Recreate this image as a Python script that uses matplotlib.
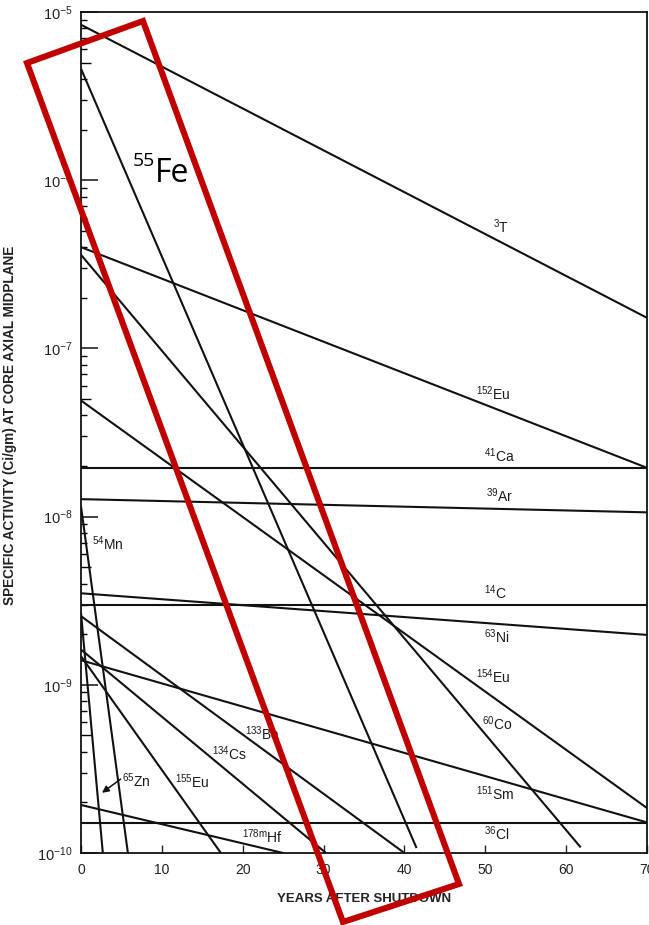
import matplotlib
matplotlib.use("Agg")
import matplotlib.pyplot as plt
from matplotlib.patches import Polygon
from matplotlib.ticker import FixedLocator, NullFormatter, LogFormatterMathtext

plt.rcParams['font.family'] = ['Liberation Sans', 'DejaVu Sans']
plt.rcParams['mathtext.fontset'] = 'custom'
plt.rcParams['mathtext.rm'] = 'Liberation Sans'
plt.rcParams['mathtext.it'] = 'Liberation Sans:italic'
plt.rcParams['mathtext.bf'] = 'Liberation Sans:bold'

# decay lines: activity at shutdown, year where the line stops, activity there
nuclides = ['3T', '55Fe', '152Eu', '60Co', '154Eu', '41Ca', '39Ar', '54Mn', '63Ni',
            '14C', '65Zn', '133Ba', '134Cs', '155Eu', '151Sm', '178mHf', '36Cl']
start_act = [8.4e-6, 4.6e-6, 4.0e-7, 3.6e-7, 4.9e-8, 1.95e-8, 1.27e-8, 1.15e-8, 3.5e-9,
             2.97e-9, 2.67e-9, 2.56e-9, 1.62e-9, 1.48e-9, 1.40e-9, 1.93e-10, 1.51e-10]
end_year = [70, 41.5, 70, 61.8, 70, 70, 70, 5.8, 70,
            70, 2.7, 40.0, 30.3, 17.3, 70, 25.0, 70]
end_act = [1.52e-7, 1.07e-10, 1.95e-8, 1.08e-10, 1.85e-10, 1.95e-8, 1.06e-8, 1.0e-10, 1.98e-9,
           2.97e-9, 1.0e-10, 1.0e-10, 1.0e-10, 1.0e-10, 1.52e-10, 1.0e-10, 1.51e-10]

x_ticks = [0, 10, 20, 30, 40, 50, 60, 70]

fig = plt.figure(figsize=(6.49, 9.25), dpi=100)
ax = fig.add_axes([81 / 649, 1 - 853 / 925, 566 / 649, 841 / 925])

for i in range(len(nuclides)):
    ax.plot([0, end_year[i]], [start_act[i], end_act[i]], color='#111111', lw=1.5,
            solid_capstyle='butt')

ax.set_yscale('log')
ax.set_ylim(1e-10, 1e-5)
ax.set_xlim(0, 70)

# curve labels (name pieces, year, activity of baseline)
lab_mass = ['3', '152', '41', '39', '14', '63', '154', '60', '151', '36',
            '178m', '133', '134', '155', '65', '54']
lab_sym = ['T', 'Eu', 'Ca', 'Ar', 'C', 'Ni', 'Eu', 'Co', 'Sm', 'Cl',
           'Hf', 'Ba', 'Cs', 'Eu', 'Zn', 'Mn']
lab_x = [50.9, 48.9, 49.8, 50.1, 49.9, 49.8, 48.9, 49.6, 48.8, 49.8,
         19.9, 20.3, 16.2, 11.6, 5.1, 1.4]
lab_y = [4.86e-7, 4.93e-8, 2.11e-8, 1.22e-8, 3.24e-9, 1.77e-9, 1.03e-9, 5.38e-10, 2.07e-10, 1.19e-10,
         1.15e-10, 4.70e-10, 3.57e-10, 2.44e-10, 2.47e-10, 6.33e-9]
for m, s, x, y in zip(lab_mass, lab_sym, lab_x, lab_y):
    ax.text(x, y, r'$^{\mathrm{%s}}$%s' % (m, s), fontsize=10, color='#1a1a1a',
            ha='left', va='baseline')

ax.annotate('', xy=(2.6, 2.28e-10), xytext=(4.9, 2.75e-10),
            arrowprops=dict(arrowstyle='-|>', color='#111111', lw=1.1,
                            mutation_scale=10, shrinkA=0, shrinkB=0))

# ticks
ax.set_xticks(x_ticks)
ax.tick_params(axis='x', direction='in', length=6, width=1, labelsize=10, pad=7,
               top=False, colors='#222222')
ax.yaxis.set_major_locator(FixedLocator([1e-10, 1e-9, 1e-8, 1e-7, 1e-6, 1e-5]))
ax.yaxis.set_major_formatter(LogFormatterMathtext())
minor = [m * 10.0 ** e for e in range(-10, -5) for m in (2, 3, 4, 6, 7, 8, 9)]
ax.yaxis.set_minor_locator(FixedLocator(minor))
ax.yaxis.set_minor_formatter(NullFormatter())
ax.tick_params(axis='y', which='major', direction='in', length=12, width=1.2,
               labelsize=10.5, pad=6, right=False, colors='#222222')
ax.tick_params(axis='y', which='minor', direction='in', length=4.5, width=1,
               right=False)
sec = ax.secondary_yaxis('left')
sec.set_yscale('log')
sec.yaxis.set_major_locator(FixedLocator([5 * 10.0 ** e for e in range(-10, -5)]))
sec.yaxis.set_major_formatter(NullFormatter())
sec.yaxis.set_minor_locator(FixedLocator([]))
sec.tick_params(axis='y', which='major', direction='in', length=7, width=1)
sec.spines['left'].set_visible(False)

for sp in ax.spines.values():
    sp.set_linewidth(1.3)
    sp.set_color('#111111')

ax.set_xlabel('YEARS AFTER SHUTDOWN', fontsize=9.5, fontweight='bold', color='#222222')
ax.xaxis.set_label_coords(0.5, -0.048)
ax.set_ylabel('SPECIFIC ACTIVITY (Ci/gm) AT CORE AXIAL MIDPLANE', fontsize=9.8,
              fontweight='bold', color='#222222')
ax.yaxis.set_label_coords(-0.113, 0.509)

# red highlight box and big label
corners = [(27, 63), (143, 21), (459, 884), (343, 922)]
box = Polygon([(px / 649, 1 - py / 925) for px, py in corners], closed=True, fill=False,
              edgecolor='#c00000', lw=4.4, joinstyle='miter', transform=fig.transFigure,
              clip_on=False)
fig.add_artist(box)
fig.text(155 / 649, 1 - 182 / 925, 'Fe', fontsize=23, family=['Open Sans', 'DejaVu Sans'],
         ha='left', va='baseline', color='black')
fig.text(155 / 649, 1 - 166 / 925, '55', fontsize=14, family=['Open Sans', 'DejaVu Sans'],
         ha='right', va='baseline', color='black')

fig.savefig('out.png', dpi=100)
